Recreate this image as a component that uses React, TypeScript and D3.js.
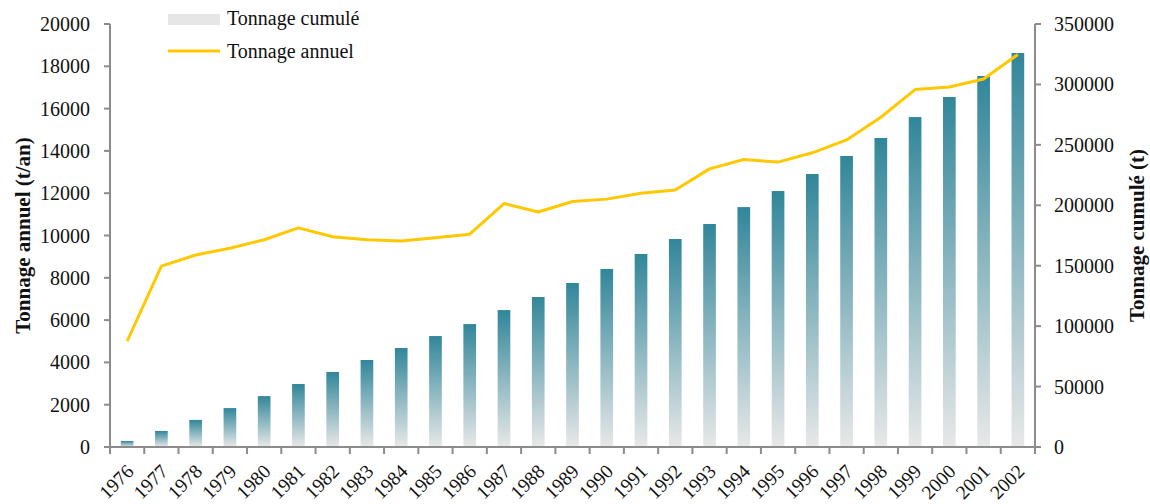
import * as d3 from "d3"

const years = [
  "1976", "1977", "1978", "1979", "1980", "1981", "1982", "1983", "1984",
  "1985", "1986", "1987", "1988", "1989", "1990", "1991", "1992", "1993",
  "1994", "1995", "1996", "1997", "1998", "1999", "2000", "2001", "2002",
]

// Tonnage annuel (t/an), left axis
const annual = [
  5000, 8550, 9080, 9400, 9800, 10360, 9940, 9800, 9740,
  9890, 10060, 11510, 11110, 11610, 11720, 12000, 12150, 13150,
  13590, 13470, 13910, 14520, 15590, 16900, 17020, 17400, 18560,
]

// Tonnage cumulé (t), right axis
const cumul = [
  5000, 13300, 22400, 32200, 42100, 52100, 62100, 72000, 81900,
  91800, 101700, 113300, 124100, 135700, 147300, 159700, 172100, 184500,
  198500, 211800, 225900, 240800, 255700, 273000, 289600, 307000, 326000,
]

const leftTicks = [0, 2000, 4000, 6000, 8000, 10000, 12000, 14000, 16000, 18000, 20000]
const rightTicks = [0, 50000, 100000, 150000, 200000, 250000, 300000, 350000]

const W = 1150
const H = 504
const left = 110
const right = 1035
const top = 24
const bottom = 447

const font = "'Liberation Serif', 'Times New Roman', serif"
const axisColor = "#8c8c8c"
const lineColor = "#ffc800"

export default function App() {
  const x = d3.scaleBand<string>().domain(years).range([left, right]).padding(0)
  const yL = d3.scaleLinear().domain([0, 20000]).range([bottom, top])
  const yR = d3.scaleLinear().domain([0, 350000]).range([bottom, top])

  const barW = x.bandwidth() * 0.37
  const cx = (y: string) => (x(y) ?? 0) + x.bandwidth() / 2

  const line = d3
    .line<number>()
    .x((_, i) => cx(years[i]))
    .y(d => yL(d))

  // tick positions on category boundaries
  const xTicks = years.map(y => x(y) ?? 0).concat([right])

  return (
    <div style={{ position: "absolute", left: 0, top: 0 }}>
      <svg width={W} height={H} style={{ display: "block", fontFamily: font }}>
        <defs>
          <linearGradient id="barGrad" x1="0" y1="0" x2="0" y2="1">
            <stop offset="0" stopColor="#31869a" />
            <stop offset="1" stopColor="#e8e8e8" />
          </linearGradient>
        </defs>

        {/* bars */}
        {cumul.map((v, i) => (
          <rect
            key={years[i]}
            x={cx(years[i]) - barW / 2}
            y={yR(v)}
            width={barW}
            height={bottom - yR(v)}
            fill="url(#barGrad)"
          />
        ))}

        {/* line */}
        <path d={line(annual) ?? ""} fill="none" stroke={lineColor} strokeWidth={3} strokeLinejoin="round" />

        {/* left axis */}
        <line x1={left} x2={left} y1={top} y2={bottom} stroke={axisColor} strokeWidth={2} />
        {leftTicks.map(t => (
          <g key={t}>
            <line x1={left - 6} x2={left} y1={yL(t)} y2={yL(t)} stroke={axisColor} strokeWidth={2} />
            <text x={90} y={yL(t)} dy="0.35em" textAnchor="end" fontSize={20} fill="#111">
              {t}
            </text>
          </g>
        ))}

        {/* right axis */}
        <line x1={right} x2={right} y1={top} y2={bottom} stroke={axisColor} strokeWidth={2} />
        {rightTicks.map(t => (
          <g key={t}>
            <line x1={right} x2={right + 6} y1={yR(t)} y2={yR(t)} stroke={axisColor} strokeWidth={2} />
            <text x={1054} y={yR(t)} dy="0.35em" textAnchor="start" fontSize={20} fill="#111">
              {t}
            </text>
          </g>
        ))}

        {/* x axis */}
        <line x1={left - 6} x2={right + 6} y1={bottom} y2={bottom} stroke={axisColor} strokeWidth={2} />
        {xTicks.map((t, i) => (
          <line key={i} x1={t} x2={t} y1={bottom} y2={bottom + 7} stroke={axisColor} strokeWidth={2} />
        ))}
        {years.map(y => (
          <text
            key={y}
            transform={`translate(${cx(y) - 2},${bottom + 16}) rotate(-45)`}
            textAnchor="end"
            dy="0.7em"
            fontSize={19.5}
            fill="#111"
          >
            {y}
          </text>
        ))}

        {/* axis titles */}
        <text
          transform={`translate(30,${(top + bottom) / 2}) rotate(-90)`}
          textAnchor="middle"
          fontSize={21}
          fontWeight="bold"
          fill="#111"
        >
          Tonnage annuel (t/an)
        </text>
        <text
          transform={`translate(1144,${(top + bottom) / 2}) rotate(-90)`}
          textAnchor="middle"
          fontSize={21}
          fontWeight="bold"
          fill="#111"
        >
          Tonnage cumulé (t)
        </text>

        {/* legend */}
        <rect x={168} y={14} width={52} height={11} fill="#e6e6e6" />
        <text x={227} y={25} fontSize={20} fill="#111">
          Tonnage cumulé
        </text>
        <line x1={168} x2={220} y1={51} y2={51} stroke={lineColor} strokeWidth={3} />
        <text x={227} y={58} fontSize={20} fill="#111">
          Tonnage annuel
        </text>
      </svg>
    </div>
  )
}
